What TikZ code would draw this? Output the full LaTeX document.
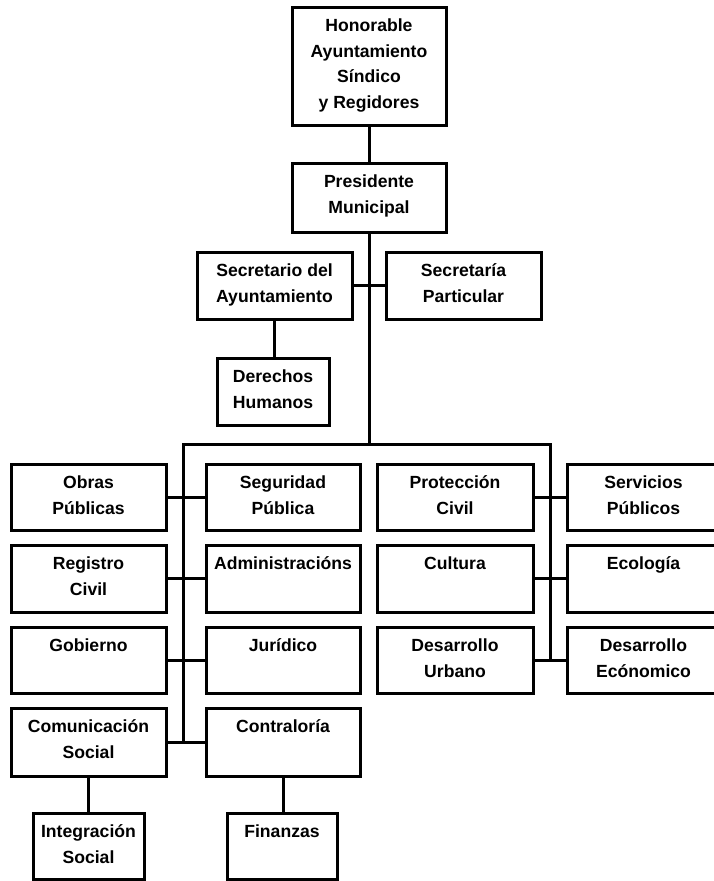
\documentclass[tikz,border=0pt]{standalone}
\usepackage{fontspec}
\setmainfont{Liberation Sans}
\newcommand\bx[6]{%
  \pgfmathsetmacro\bw{#4-#2}\pgfmathsetmacro\bh{#5-#3}%
  \node[box, anchor=north west, minimum width=\bw pt, minimum height=\bh pt] (#1) at (#2,#3)
    {\parbox[c][\bh pt][t]{\bw pt}{\centering\rule{0pt}{24.5pt}#6}};}
\begin{document}
\begin{tikzpicture}[x=1pt,y=-1pt,
  box/.style={draw=black, line width=3pt, inner sep=0pt, outer sep=0pt, fill=white,
    font=\fontsize{17.6}{25.7}\selectfont\bfseries},
  conn/.style={draw=black, line width=3pt}]
\fill[white] (0,0) rectangle (714,881);
\useasboundingbox (0,0) rectangle (714,881);
\clip (0,0) rectangle (714,881);
% boxes
\bx{hon}{292}{7}{446}{125}{Honorable\\Ayuntamiento\\Síndico\\y Regidores}
\bx{pres}{292}{163}{446}{232}{Presidente\\Municipal}
\bx{secA}{197}{252}{352}{319}{Secretario del\\Ayuntamiento}
\bx{secP}{386}{252}{541}{319}{Secretaría\\Particular}
\bx{der}{217}{358}{329}{425}{Derechos\\Humanos}
\bx{obras}{11}{464}{166}{530}{Obras\\Públicas}
\bx{segP}{206}{464}{360}{530}{Seguridad\\Pública}
\bx{reg}{11}{545}{166}{612}{Registro\\Civil}
\bx{adm}{206}{545}{360}{612}{Administracións}
\bx{gob}{11}{627}{166}{693}{Gobierno}
\bx{jur}{206}{627}{360}{693}{Jurídico}
\bx{com}{11}{708}{166}{776}{Comunicación\\Social}
\bx{cont}{206}{708}{360}{776}{Contraloría}
\bx{integ}{33}{813}{144}{879}{Integración\\Social}
\bx{fin}{227}{813}{337}{879}{Finanzas}
\bx{prot}{377}{464}{533}{530}{Protección\\Civil}
\bx{serv}{567}{464}{720}{530}{Servicios\\Públicos}
\bx{cult}{377}{545}{533}{612}{Cultura}
\bx{eco}{567}{545}{720}{612}{Ecología}
\bx{desU}{377}{627}{533}{693}{Desarrollo\\Urbano}
\bx{desE}{567}{627}{720}{693}{Desarrollo\\Ecónomico}
% bus coordinates
\coordinate (busM) at (369,444);
\coordinate (busL) at (183,444);
\coordinate (busR) at (550,444);
\coordinate (busLend) at (183,741);
\coordinate (busRend) at (550,661);
% connectors
\draw[conn] (hon.south) -- (pres.north);
\draw[conn] (pres.south) -- (busM);
\draw[conn] (secA.east) -- (secP.west);
\draw[conn] (secA.south) -- (secA.south |- der.north);
\draw[conn] (busLend) -- (busL) -- (busR) -- (busRend);
\draw[conn] (obras.east) -- (segP.west);
\draw[conn] (reg.east) -- (adm.west);
\draw[conn] (gob.east) -- (jur.west);
\draw[conn] (com.east) -- (cont.west);
\draw[conn] (prot.east) -- (serv.west);
\draw[conn] (cult.east) -- (eco.west);
\draw[conn] (desU.east) -- (desE.west);
\draw[conn] (com.south) -- (integ.north);
\draw[conn] (cont.south) -- (cont.south |- fin.north);
\end{tikzpicture}
\end{document}
